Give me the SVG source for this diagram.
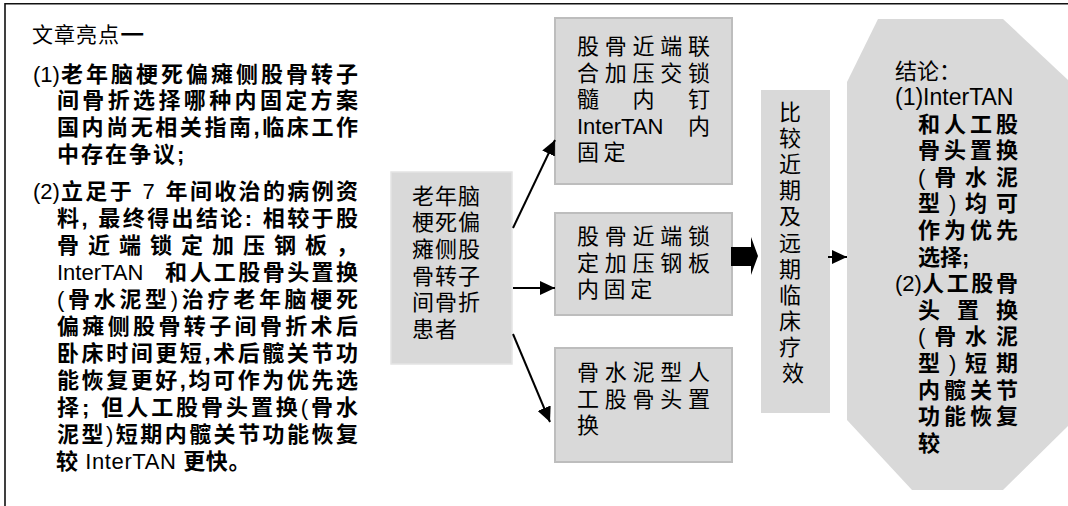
<svg xmlns="http://www.w3.org/2000/svg" width="1068" height="506" viewBox="0 0 1068 506">
<style>
.frame{fill:none;stroke:#111;stroke-width:1.6}
.box{fill:#d9d9d9;stroke:#bdbdbd;stroke-width:2}
.box0{fill:#d9d9d9;stroke:#e4e4e4;stroke-width:1.5}
.plain{fill:#d9d9d9;stroke:none}
.reg{font-family:"Liberation Sans","Noto Sans CJK SC",sans-serif;font-size:22px;fill:#000}
.bk{font-family:"Liberation Sans","Noto Sans CJK SC",sans-serif;font-weight:bold;font-size:22px;fill:#000}
.lat{font-family:"Liberation Sans",sans-serif;font-weight:normal;font-size:22px}
.ln{stroke:#000;stroke-width:2;fill:none}
</style>
<defs>
<marker id="ah" markerUnits="userSpaceOnUse" markerWidth="16" markerHeight="14" refX="15" refY="7" orient="auto">
<path d="M0,0 L15,7 L0,14 z" fill="#000"/>
</marker>
</defs>
<path class="frame" d="M5,506 V3.8 H1068"/>

<g id="highlights">
<text class="reg" x="32" y="41.5" style="font-size:21px;letter-spacing:1px">文章亮点<tspan style="font-family:'Noto Sans CJK SC',sans-serif;font-weight:bold;font-size:27px;letter-spacing:0">—</tspan></text>
<text class="lat" x="33" y="81.5">(1)</text>
<text class="bk" x="61" y="81.5" textLength="297" lengthAdjust="spacing">老年脑梗死偏瘫侧股骨转子</text>
<text class="bk" x="57" y="108.3" textLength="301" lengthAdjust="spacing">间骨折选择哪种内固定方案</text>
<text class="bk" x="57" y="135.1" textLength="301" lengthAdjust="spacing">国内尚无相关指南,临床工作</text>
<text class="bk" x="57" y="161.9" style="letter-spacing:2px">中存在争议;</text>
<text class="lat" x="33" y="198.5">(2)</text>
<text class="bk" x="61" y="198.5" textLength="297" lengthAdjust="spacing">立足于 <tspan class="lat">7</tspan> 年间收治的病例资</text>
<text class="bk" x="57" y="225.5" textLength="301" lengthAdjust="spacing">料, 最终得出结论: 相较于股</text>
<text class="bk" x="57" y="252.5" textLength="301" lengthAdjust="spacing">骨近端锁定加压钢板，</text>
<text class="lat" x="57" y="279.5">InterTAN</text>
<text class="bk" x="165" y="279.5" textLength="193" lengthAdjust="spacing">和人工股骨头置换</text>
<text class="bk" x="57" y="306.5" textLength="301" lengthAdjust="spacing"><tspan class="lat">(</tspan>骨水泥型<tspan class="lat">)</tspan>治疗老年脑梗死</text>
<text class="bk" x="57" y="333.5" textLength="301" lengthAdjust="spacing">偏瘫侧股骨转子间骨折术后</text>
<text class="bk" x="57" y="360.5" textLength="301" lengthAdjust="spacing">卧床时间更短,术后髋关节功</text>
<text class="bk" x="57" y="387.5" textLength="301" lengthAdjust="spacing">能恢复更好,均可作为优先选</text>
<text class="bk" x="57" y="414.5" textLength="301" lengthAdjust="spacing">择; 但人工股骨头置换<tspan class="lat">(</tspan>骨水</text>
<text class="bk" x="57" y="441.5" textLength="301" lengthAdjust="spacing">泥型<tspan class="lat">)</tspan>短期内髋关节功能恢复</text>
<text class="bk" x="56" y="468.5" style="letter-spacing:0.6px">较 <tspan class="lat">InterTAN</tspan> 更快。</text>
</g>

<g id="patients">
<rect class="box0" x="391" y="172" width="121" height="192"/>
<text class="reg" style="letter-spacing:1px">
<tspan x="412" y="203.5">老年脑</tspan>
<tspan x="412" y="230">梗死偏</tspan>
<tspan x="412" y="257">瘫侧股</tspan>
<tspan x="412" y="283.5">骨转子</tspan>
<tspan x="412" y="310">间骨折</tspan>
<tspan x="412" y="337">患者</tspan>
</text>
</g>

<g id="intertan">
<rect class="box" x="555" y="18" width="177" height="166"/>
<text class="reg" x="577" y="54" textLength="133" lengthAdjust="spacing">股骨近端联</text>
<text class="reg" x="577" y="80.6" textLength="133" lengthAdjust="spacing">合加压交锁</text>
<text class="reg" x="577" y="107.2" textLength="133" lengthAdjust="spacing">髓内钉</text>
<text class="reg" x="577" y="133.8">InterTAN</text>
<text class="reg" x="688" y="133.8">内</text>
<text class="reg" x="577" y="160.4" style="letter-spacing:4.6px">固定</text>
</g>

<g id="plate">
<rect class="box" x="555" y="213" width="177" height="102"/>
<text class="reg" x="577" y="244" textLength="133" lengthAdjust="spacing">股骨近端锁</text>
<text class="reg" x="577" y="270.6" textLength="133" lengthAdjust="spacing">定加压钢板</text>
<text class="reg" x="577" y="297.2" style="letter-spacing:4.6px">内固定</text>
</g>

<g id="arthroplasty">
<rect class="box" x="555" y="348" width="177" height="114"/>
<text class="reg" x="577" y="380" textLength="133" lengthAdjust="spacing">骨水泥型人</text>
<text class="reg" x="577" y="406.6" textLength="133" lengthAdjust="spacing">工股骨头置</text>
<text class="reg" x="577" y="433.2">换</text>
</g>

<g id="compare">
<rect class="plain" x="761" y="90" width="69" height="323"/>
<text class="reg" text-anchor="middle">
<tspan x="793" y="120">比</tspan>
<tspan x="793" y="146.1">较</tspan>
<tspan x="793" y="172.2">近</tspan>
<tspan x="793" y="198.3">期</tspan>
<tspan x="793" y="224.4">及</tspan>
<tspan x="793" y="250.5">远</tspan>
<tspan x="793" y="276.6">期</tspan>
<tspan x="793" y="302.7">临</tspan>
<tspan x="793" y="328.8">床</tspan>
<tspan x="793" y="354.9">疗</tspan>
<tspan x="793" y="381">效</tspan>
</text>
</g>

<g id="conclusion">
<polygon class="plain" points="878,19 1003,19 1068,80 1068,426 1003,490 912,490 847,420 847,82"/>
<text class="reg" x="895" y="78.5">结论：</text>
<text class="reg" x="895" y="105" style="font-size:23px">(1)InterTAN</text>
<text class="bk" x="918" y="131.6" textLength="100" lengthAdjust="spacing">和人工股</text>
<text class="bk" x="918" y="158.2" textLength="100" lengthAdjust="spacing">骨头置换</text>
<text class="bk" x="918" y="184.8" textLength="100" lengthAdjust="spacing"><tspan class="lat">(</tspan>骨水泥</text>
<text class="bk" x="918" y="211.4" textLength="100" lengthAdjust="spacing">型<tspan class="lat">)</tspan>均可</text>
<text class="bk" x="918" y="238" textLength="100" lengthAdjust="spacing">作为优先</text>
<text class="bk" x="918" y="264.6">选择;</text>
<text class="lat" x="895" y="291.2">(2)</text>
<text class="bk" x="922" y="291.2" textLength="96" lengthAdjust="spacing">人工股骨</text>
<text class="bk" x="918" y="317.8" textLength="100" lengthAdjust="spacing">头置换</text>
<text class="bk" x="918" y="344.4" textLength="100" lengthAdjust="spacing"><tspan class="lat">(</tspan>骨水泥</text>
<text class="bk" x="918" y="371" textLength="100" lengthAdjust="spacing">型<tspan class="lat">)</tspan>短期</text>
<text class="bk" x="918" y="397.6" textLength="100" lengthAdjust="spacing">内髋关节</text>
<text class="bk" x="918" y="424.2" textLength="100" lengthAdjust="spacing">功能恢复</text>
<text class="bk" x="918" y="450.8">较</text>
</g>

<g id="connectors">
<line class="ln" x1="513" y1="228" x2="555" y2="140" marker-end="url(#ah)"/>
<line class="ln" x1="513" y1="288" x2="555" y2="288" marker-end="url(#ah)"/>
<line class="ln" x1="513" y1="334" x2="550" y2="422" marker-end="url(#ah)"/>
<polygon points="731,247 751,247 751,237 758,256 751,275 751,266 731,266" fill="#000"/>
<line class="ln" x1="828" y1="257" x2="847" y2="257" marker-end="url(#ah)"/>
</g>
</svg>
